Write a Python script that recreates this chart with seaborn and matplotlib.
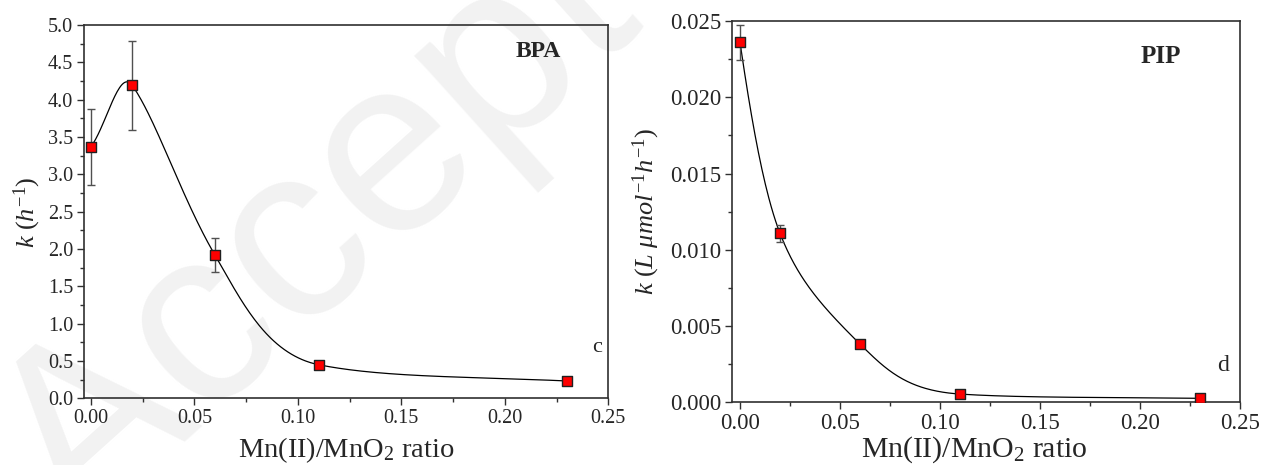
import numpy as np
import pandas as pd
import matplotlib
matplotlib.use("Agg")
import matplotlib.pyplot as plt
from matplotlib.ticker import MultipleLocator, FormatStrFormatter
import seaborn as sns

# Mn(II)/MnO2 ratios tested
ratio = [0.0, 0.02, 0.06, 0.11, 0.23]

# BPA: pseudo-first-order rate constants (h^-1) and standard deviations
k_bpa = [3.37, 4.19, 1.915, 0.45, 0.232]
k_bpa_err = [0.51, 0.60, 0.23, 0.03, 0.04]

# PIP: second-order rate constants (L umol^-1 h^-1) and standard deviations
k_pip = [0.02360, 0.01108, 0.00382, 0.00054, 0.00026]
k_pip_err = [0.00117, 0.00055, 0.00012, 0.00008, 0.00008]

x_ticks = [0.00, 0.05, 0.10, 0.15, 0.20, 0.25]


def smooth_curve(xv, yv, n=400):
    """Cubic Hermite curve through the points, built on log(k) so it stays positive."""
    x = np.asarray(xv, float)
    y = np.log(np.asarray(yv, float))
    d = np.empty_like(y)
    d[1:-1] = (y[2:] - y[:-2]) / (x[2:] - x[:-2])
    d[0] = (y[1] - y[0]) / (x[1] - x[0])
    d[-1] = (y[-1] - y[-2]) / (x[-1] - x[-2])
    xs = np.linspace(x[0], x[-1], n)
    i = np.clip(np.searchsorted(x, xs, side="right") - 1, 0, len(x) - 2)
    h = x[i + 1] - x[i]
    t = (xs - x[i]) / h
    ys = ((2 * t**3 - 3 * t**2 + 1) * y[i] + (t**3 - 2 * t**2 + t) * h * d[i]
          + (-2 * t**3 + 3 * t**2) * y[i + 1] + (t**3 - t**2) * h * d[i + 1])
    return pd.DataFrame({"ratio": xs, "k": np.exp(ys)})


sns.set_theme(style="ticks")
plt.rcParams["font.family"] = ["Liberation Serif", "DejaVu Serif"]
plt.rcParams["mathtext.fontset"] = "custom"
plt.rcParams["mathtext.rm"] = "Liberation Serif"
plt.rcParams["mathtext.it"] = "Liberation Serif:italic"
plt.rcParams["mathtext.bf"] = "Liberation Serif:bold"

W, H = 1262, 465
fig = plt.figure(figsize=(W / 100, H / 100), dpi=100)
fig.patch.set_facecolor("white")

# faint diagonal stamp behind both panels
fig.text(0.335, 0.70, "Accepted", rotation=42, fontsize=180, color="#f2f2f2",
         family="Liberation Sans", ha="center", va="center",
         rotation_mode="anchor", zorder=-1)

ax1 = fig.add_axes([84.3 / W, 1 - 398.3 / H, 524 / W, 373.3 / H])
ax2 = fig.add_axes([732 / W, 1 - 402.3 / H, 508 / W, 381.3 / H])

panels = [
    (ax1, k_bpa, k_bpa_err, (-0.0032, 0.25), (0, 5.0), 0.5, 0.25, "%.1f", 14.5,
     "BPA", (0.866, 0.928), 17, "c", (0.978, 0.136), 16),
    (ax2, k_pip, k_pip_err, (-0.004, 0.25), (0, 0.025), 0.005, 0.0025, "%.3f", 16.5,
     "PIP", (0.845, 0.908), 18, "d", (0.966, 0.096), 17),
]

for (ax, k, kerr, xlim, ylim, ymaj, ymin, yfmt, tsize,
     name, npos, nsize, tag, tpos, tagsize) in panels:
    ax.set_facecolor("none")
    curve = smooth_curve(ratio, k)
    sns.lineplot(data=curve, x="ratio", y="k", ax=ax, color="black",
                 linewidth=0.9, zorder=2)
    ax.errorbar(ratio, k, yerr=kerr, fmt="none", ecolor="#505050",
                elinewidth=1.0, capsize=2.6, capthick=1.0, zorder=3)
    sns.scatterplot(x=ratio, y=k, ax=ax, marker="s", s=42, color="#ff0000",
                    edgecolor="#202020", linewidth=1.0, zorder=4)
    ax.set_xlim(*xlim)
    ax.set_ylim(*ylim)
    ax.set_xticks(x_ticks)
    ax.xaxis.set_major_formatter(FormatStrFormatter("%.2f"))
    ax.xaxis.set_minor_locator(MultipleLocator(0.025))
    ax.yaxis.set_major_locator(MultipleLocator(ymaj))
    ax.yaxis.set_major_formatter(FormatStrFormatter(yfmt))
    ax.yaxis.set_minor_locator(MultipleLocator(ymin))
    ax.tick_params(which="major", direction="out", length=5, width=1.0,
                   color="#303030", labelsize=tsize, pad=3, top=False, right=False)
    ax.tick_params(which="minor", direction="out", length=3, width=1.0,
                   color="#303030", top=False, right=False)
    for sp in ax.spines.values():
        sp.set_linewidth(1.2)
        sp.set_color("#303030")
    ax.text(*npos, name, transform=ax.transAxes, fontsize=nsize,
            fontweight="bold", ha="center", va="center")
    ax.text(*tpos, tag, transform=ax.transAxes, fontsize=tagsize,
            ha="center", va="center")

ax1.set_xlabel(r"Mn(II)/MnO$_2$ ratio", fontsize=20.5, va="baseline")
ax1.xaxis.set_label_coords(346.5 / W, 1 - 457 / H, transform=fig.transFigure)
ax2.set_xlabel(r"Mn(II)/MnO$_2$ ratio", fontsize=21.5, va="baseline")
ax2.xaxis.set_label_coords(974 / W, 1 - 457 / H, transform=fig.transFigure)

ax1.set_ylabel(r"$k\ (h^{-1})$", fontsize=19, va="center", ha="center")
ax1.yaxis.set_label_coords(27 / W, 1 - 212 / H, transform=fig.transFigure)
ax2.set_ylabel(r"$k\ (L\ \mu mol^{-1} h^{-1})$", fontsize=19, va="center", ha="center")
ax2.yaxis.set_label_coords(646 / W, 1 - 211 / H, transform=fig.transFigure)

fig.savefig("out.png", dpi=100, facecolor="white")
